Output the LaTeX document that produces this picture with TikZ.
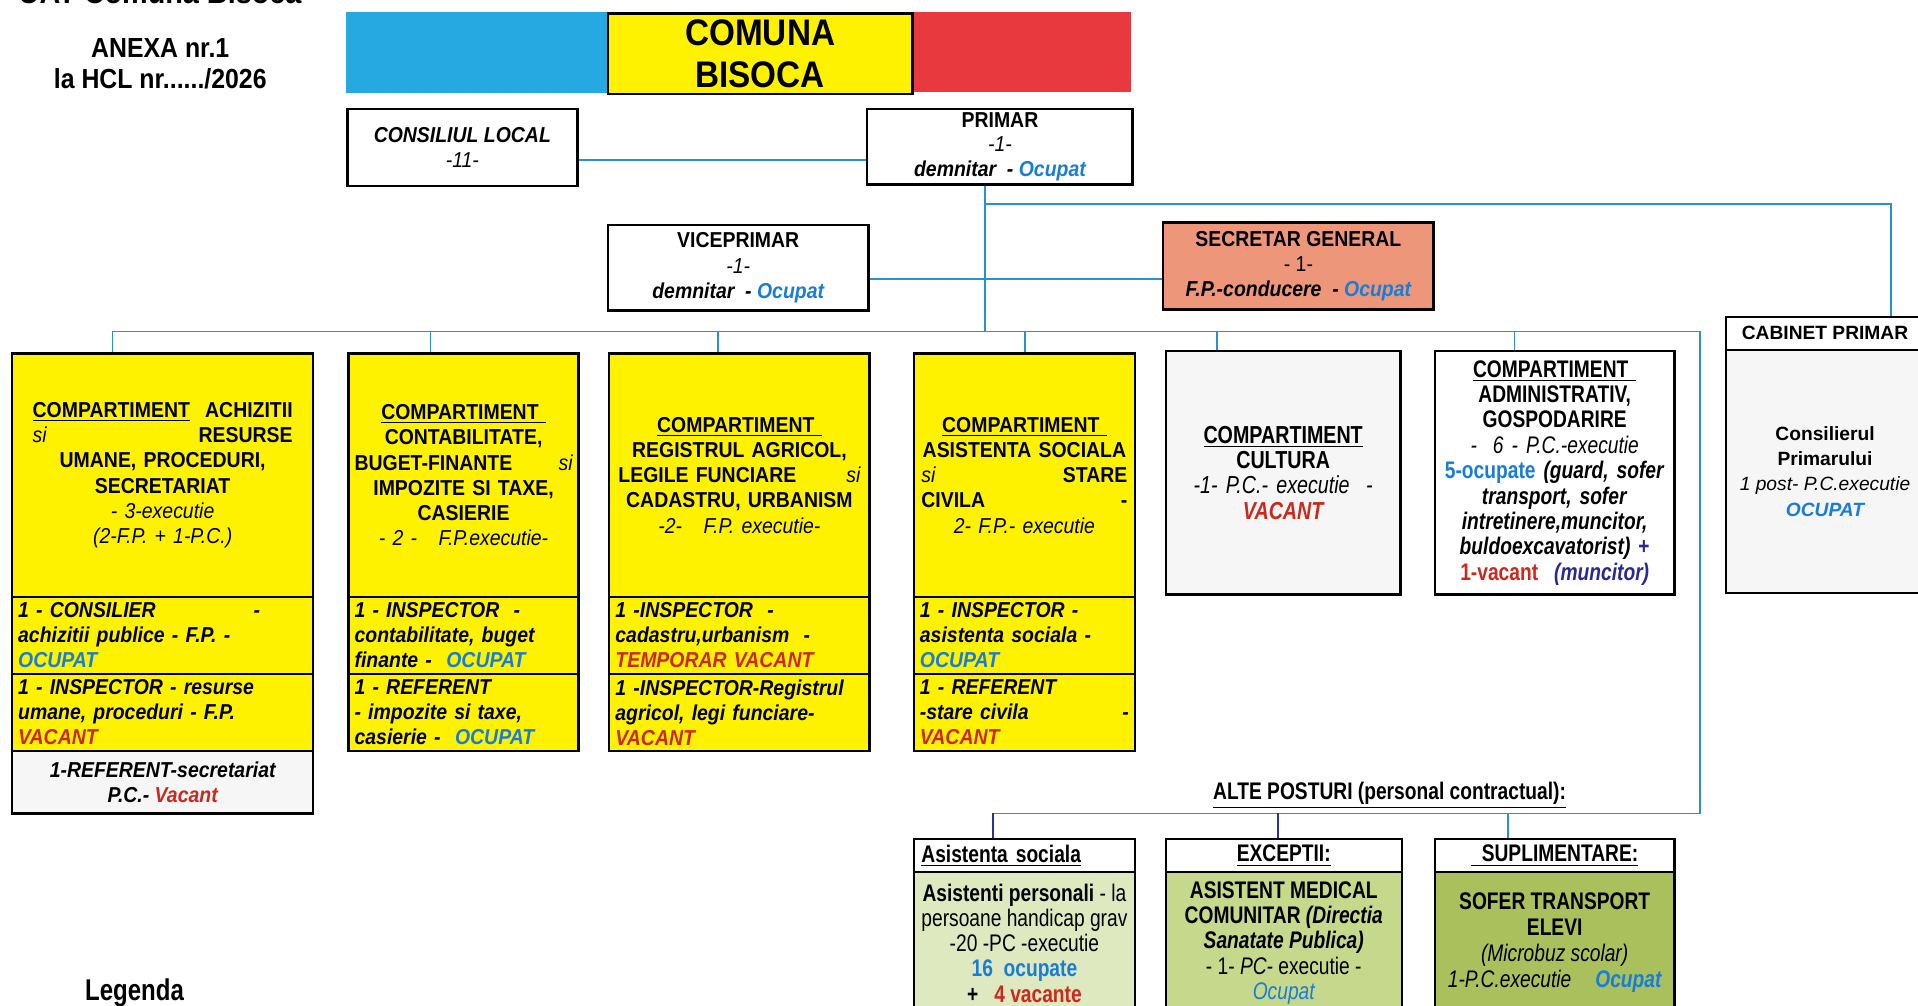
\documentclass[tikz,border=0pt]{standalone}
\usepackage{fontspec}
\setmainfont[FakeStretch=0.9]{Liberation Sans}
\newfontfamily\nf[FakeStretch=0.8]{Liberation Sans}
\newfontfamily\wf{Liberation Sans}
\definecolor{flagblue}{RGB}{38,168,224}
\definecolor{flagred}{RGB}{232,58,62}
\definecolor{byel}{RGB}{255,242,0}
\definecolor{salmon}{RGB}{238,150,122}
\definecolor{lgray}{RGB}{246,246,246}
\definecolor{lgreen}{RGB}{222,233,192}
\definecolor{mgreen}{RGB}{198,216,140}
\definecolor{dgreen}{RGB}{170,192,92}
\definecolor{connc}{RGB}{40,145,210}
\definecolor{conndark}{RGB}{35,55,150}
\definecolor{ocup}{RGB}{25,125,215}
\definecolor{vac}{RGB}{205,40,30}
\definecolor{navy}{RGB}{40,40,150}
\newcommand\ocp[1]{\textcolor{ocup}{#1}}
\newcommand\vct[1]{\textcolor{vac}{#1}}
\newcommand\jln[2][\linewidth]{\makebox[#1][l]{#2}}
\newcommand\obox[7]{\node[bx,anchor=north west,minimum width={(#5-#3)*0.6116pt},minimum height={(#6-#4)*0.6116pt},#2] (#1) at (#3,#4) {#7};}
\begin{document}
\begin{tikzpicture}[x=0.6116pt,y=-0.6116pt,
  bx/.style={draw=black,line width=1.2pt,inner sep=1pt,align=center,font=\bfseries\fontsize{10.8}{12.6}\selectfont},
  sub/.style={align=left,font=\bfseries\itshape\fontsize{10.8}{12.5}\selectfont},
  narrow/.style={font=\nf\bfseries\fontsize{12.3}{12.7}\selectfont},
  conn/.style={draw=connc,line width=0.8pt},
  conndk/.style={draw=conndark,line width=0.9pt}]
\useasboundingbox (0,0) rectangle (1568,822);
\fill[white] (0,0) rectangle (1568,822);

% title (cut off at top)
\node[font=\bfseries\fontsize{16}{18}\selectfont,anchor=base west,inner sep=0] (title) at (15,3) {UAT Comuna Bisoca};
\node[font=\bfseries\fontsize{13.8}{15.3}\selectfont,align=center] (anexa) at (131,52) {ANEXA nr.1\\la HCL nr....../2026};

% flag
\fill[flagblue] (283,10) rectangle (496,76);
\fill[flagred] (745,10) rectangle (925,75);
\obox{comuna}{fill=byel,font=\bfseries\fontsize{18.5}{21.4}\selectfont}{496}{10}{745}{76}{COMUNA\\BISOCA}

% top level
\obox{cl}{fill=white,font=\bfseries\itshape\fontsize{10.8}{12.2}\selectfont}{283}{88}{471}{151}{CONSILIUL LOCAL\\{\mdseries -11-}}
\obox{primar}{fill=white,font=\bfseries\fontsize{10.8}{12.2}\selectfont}{708}{88}{925}{150}{PRIMAR\\{\mdseries\itshape -1-}\\\textit{demnitar\ \ - \ocp{Ocupat}}}
\obox{vice}{fill=white}{496}{183}{709}{253}{VICEPRIMAR\\{\mdseries\itshape -1-}\\\textit{demnitar\ \ - \ocp{Ocupat}}}
\obox{sec}{fill=salmon}{950}{181}{1171}{252}{SECRETAR GENERAL\\{\mdseries - 1-}\\\textit{F.P.-conducere\ \ - \ocp{Ocupat}}}

% compartments row
\obox{b1}{fill=byel,text width=130pt}{9}{288}{255}{487}{%
\jln{\underline{COMPARTIMENT}\hfill ACHIZITII}\\
\jln{{\mdseries\itshape si}\hfill RESURSE}\\
UMANE, PROCEDURI,\\SECRETARIAT\\
{\mdseries\itshape - 3-executie}\\
{\mdseries\itshape (2-F.P. + 1-P.C.)}}
\obox{b1a}{fill=byel,sub,text width=144.5pt}{9}{487}{255}{550}{\jln[121pt]{1 - CONSILIER\hfill -}\\achizitii publice - F.P. -\\\ocp{OCUPAT}}
\obox{b1b}{fill=byel,sub,text width=144.5pt}{9}{550}{255}{613}{1 - INSPECTOR - resurse\\umane, proceduri - F.P.\\\vct{VACANT}}
\obox{b1c}{fill=lgray,font=\bfseries\itshape\fontsize{10.8}{12.3}\selectfont}{9}{613}{255}{664}{1-REFERENT-secretariat\\P.C.- \vct{Vacant}}

\obox{b2}{fill=byel,text width=109pt}{284}{288}{472}{487}{%
\underline{COMPARTIMENT\ }\\CONTABILITATE,\\
\jln{BUGET-FINANTE\hfill{\mdseries\itshape si}}\\
IMPOZITE SI TAXE,\\CASIERIE\\
{\mdseries\itshape - 2 -\ \ \ F.P.executie-}}
\obox{b2a}{fill=byel,sub,text width=109pt}{284}{487}{472}{550}{1 - INSPECTOR\ \ -\\contabilitate, buget\\finante -\ \ \ocp{OCUPAT}}
\obox{b2b}{fill=byel,sub,text width=109pt}{284}{550}{472}{613}{1 - REFERENT\\- impozite si taxe,\\casierie -\ \ \ocp{OCUPAT}}

\obox{b3}{fill=byel,text width=121pt}{497}{288}{710}{487}{%
\underline{COMPARTIMENT\ }\\REGISTRUL AGRICOL,\\
\jln{LEGILE FUNCIARE\hfill{\mdseries\itshape si}}\\
CADASTRU, URBANISM\\
{\mdseries\itshape -2-\ \ \ F.P. executie-}}
\obox{b3a}{fill=byel,sub,text width=124pt}{497}{487}{710}{550}{1 -INSPECTOR\ \ -\\cadastru,urbanism\ \ -\\\vct{TEMPORAR VACANT}}
\obox{b3b}{fill=byel,sub,text width=124pt}{497}{550}{710}{613}{1 -INSPECTOR-Registrul\\agricol, legi funciare-\\\vct{VACANT}}

\obox{b4}{fill=byel,text width=103pt}{746}{288}{927}{487}{%
\underline{COMPARTIMENT\ }\\ASISTENTA SOCIALA\\
\jln{{\mdseries\itshape si}\hfill STARE}\\
\jln{CIVILA\hfill -}\\
{\mdseries\itshape 2- F.P.- executie}}
\obox{b4a}{fill=byel,sub,text width=104.5pt}{746}{487}{927}{550}{1 - INSPECTOR -\\asistenta sociala -\\\ocp{OCUPAT}}
\obox{b4b}{fill=byel,sub,text width=104.5pt}{746}{550}{927}{613}{1 - REFERENT\\\jln{-stare civila\hfill -}\\\vct{VACANT}}

\obox{b5}{fill=lgray,narrow,text width=112pt}{952}{286}{1144}{485}{%
\underline{COMPARTIMENT}\\CULTURA\\
{\mdseries\itshape -1- P.C.- executie\ \ -}\\
\textit{\vct{VACANT}}}

\obox{b6}{fill=white,narrow,font=\nf\bfseries\fontsize{12}{12.7}\selectfont,inner sep=0.4pt,text width=119pt}{1172}{286}{1368}{485}{%
\underline{COMPARTIMENT\ }\\ADMINISTRATIV,\\GOSPODARIRE\\
{\mdseries\itshape -\ \ 6 - P.C.-executie}\\
\ocp{5-ocupate}\ \textit{(guard, sofer}\\
\textit{transport, sofer}\\
\textit{intretinere,muncitor,}\\
\textit{buldoexcavatorist)}\ \textcolor{navy}{+}\\
\vct{1-vacant}\ \ \textcolor{navy}{\textit{(muncitor)}}}

\obox{cabh}{fill=white,font=\wf\bfseries\fontsize{9.6}{12}\selectfont}{1410}{258}{1572}{285}{CABINET PRIMAR}
\obox{cab}{fill=lgray,font=\wf\bfseries\fontsize{9.6}{12.6}\selectfont}{1410}{285}{1572}{484}{Consilierul\\Primarului\\{\mdseries\itshape 1 post- P.C.executie}\\\textit{\ocp{OCUPAT}}}

% other posts
\node[font=\nf\bfseries\fontsize{12}{14}\selectfont] (alte) at (1136,650) {\underline{ALTE POSTURI (personal contractual):}};
\obox{ash}{fill=white,align=left,text width=103pt,font=\nf\bfseries\fontsize{12}{13}\selectfont}{746}{685}{927}{712}{\underline{Asistenta sociala}}
\obox{exh}{fill=white,font=\nf\bfseries\fontsize{12}{13}\selectfont}{952}{685}{1145}{712}{\underline{EXCEPTII:}}
\obox{sph}{fill=white,font=\nf\bfseries\fontsize{12}{13}\selectfont}{1172}{685}{1368}{712}{\underline{\ \ SUPLIMENTARE:}}
\obox{as}{fill=lgreen,font=\nf\fontsize{12}{12.6}\selectfont}{746}{712}{927}{828}{\textbf{Asistenti personali} - la\\persoane handicap grav\\-20 -PC -executie\\\textbf{\ocp{16\ \ ocupate}}\\\textbf{+\ \ \ \vct{4 vacante}}}
\obox{ex}{fill=mgreen,font=\nf\bfseries\fontsize{12}{12.6}\selectfont}{952}{712}{1145}{828}{ASISTENT MEDICAL\\COMUNITAR \textit{(Directia}\\\textit{Sanatate Publica)}\\{\mdseries - 1- \textit{PC-} executie -}\\{\mdseries\itshape\ocp{Ocupat}}}
\obox{sp}{fill=dgreen,font=\nf\bfseries\fontsize{12}{13}\selectfont}{1172}{712}{1368}{828}{SOFER TRANSPORT\\ELEVI\\{\mdseries\itshape (Microbuz scolar)}\\{\mdseries\itshape 1-P.C.executie}\quad\textit{\ocp{Ocupat}}}

\node[font=\nf\bfseries\fontsize{15}{17}\selectfont] (leg) at (110,812) {Legenda};

% connector junctions
\coordinate (jp) at (805,271);
\coordinate (jc) at (805,167);
\coordinate (jcr) at (1546,167);
\coordinate (busl) at (92,271);
\coordinate (busr) at (1390,271);
\coordinate (altr) at (1390,665);
\coordinate (altl) at (812,665);
\coordinate (alte2) at (1045,665);
\coordinate (alte3) at (1233,665);

\draw[conn] (cl.east |- 0,131) -- (primar.west |- 0,131);
\draw[conn] (primar.south -| jp) -- (jp);
\draw[conn] (jc) -- (jcr) -- (cabh.north -| jcr);
\draw[conn] (vice.east |- 0,228) -- (sec.west |- 0,228);
\draw[conn] (busl) -- (busr);
\foreach \n/\x in {b1/92,b2/352,b3/587,b4/838,b5/995,b6/1238}
  \draw[conn] (\x,271) -- (\n.north -| \x,0);
\draw[conn] (busr) -- (altr) -- (altl);
\draw[conndk] (altl) -- (ash.north -| altl);
\draw[conndk] (alte2) -- (exh.north -| alte2);
\draw[conn] (alte3) -- (sph.north -| alte3);
\end{tikzpicture}
\end{document}
